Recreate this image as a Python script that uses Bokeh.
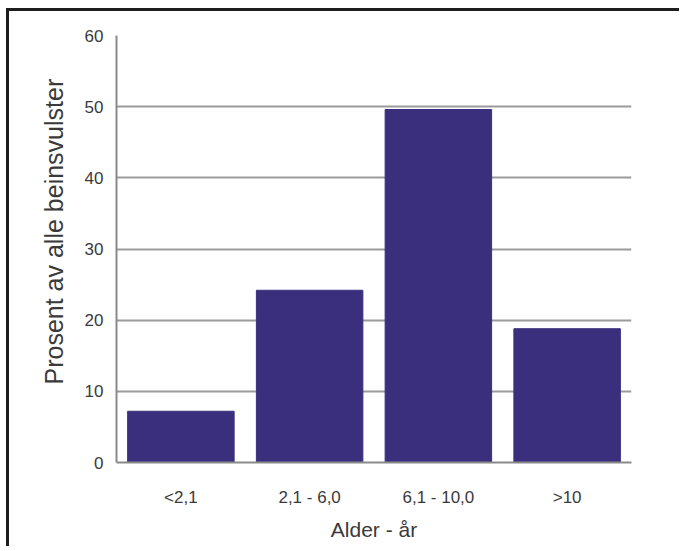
from bokeh.plotting import figure
from bokeh.models import FactorRange, Range1d, FixedTicker
from bokeh.embed import file_html
from bokeh.resources import INLINE

categories = ["<2,1", "2,1 - 6,0", "6,1 - 10,0", ">10"]
values = [7.2, 24.2, 49.6, 18.8]
y_ticks = [0, 10, 20, 30, 40, 50, 60]

p = figure(width=673, height=538, output_backend="svg", toolbar_location=None,
           x_range=FactorRange(*categories, range_padding=0), y_range=Range1d(0, 60),
           min_border_left=107, min_border_right=51, min_border_top=24, min_border_bottom=87)
p.styles = {"margin-top": "8px", "margin-left": "6px",
            "border-top": "3px solid #1e1e1e", "border-left": "3px solid #1e1e1e"}

p.vbar(x=categories, top=values, width=0.827, fill_color="#3a2f7d", line_color="#3a2f7d")

p.outline_line_color = None
p.xgrid.grid_line_color = None
p.ygrid.grid_line_color = "#9a9a9a"
p.ygrid.grid_line_width = 2
p.ygrid.ticker = FixedTicker(ticks=y_ticks)
p.yaxis.ticker = FixedTicker(ticks=y_ticks)

for ax in (p.xaxis, p.yaxis):
    ax.axis_line_color = "#8a8a8a"
    ax.axis_line_width = 2
    ax.major_tick_line_color = None
    ax.major_tick_out = 0
    ax.major_tick_in = 0
    ax.minor_tick_line_color = None
    ax.minor_tick_out = 0
    ax.major_label_text_font = "Liberation Sans"
    ax.major_label_text_font_size = "17px"
    ax.major_label_text_color = "#3a3a3a"
    ax.axis_label_text_font = "Liberation Sans"
    ax.axis_label_text_font_style = "normal"
    ax.axis_label_text_color = "#3a3a3a"

p.xaxis.axis_label_text_font_size = "21px"
p.yaxis.axis_label_text_font_size = "25px"
p.yaxis.axis_label = "\u00a0" * 5 + "Prosent av alle beinsvulster"
p.xaxis.axis_label = "Alder - år"
p.yaxis.major_label_standoff = 13
p.xaxis.major_label_standoff = 25
p.xaxis.axis_label_standoff = 8
p.yaxis.axis_label_standoff = 14

open("out.html", "w").write(file_html(p, INLINE))
